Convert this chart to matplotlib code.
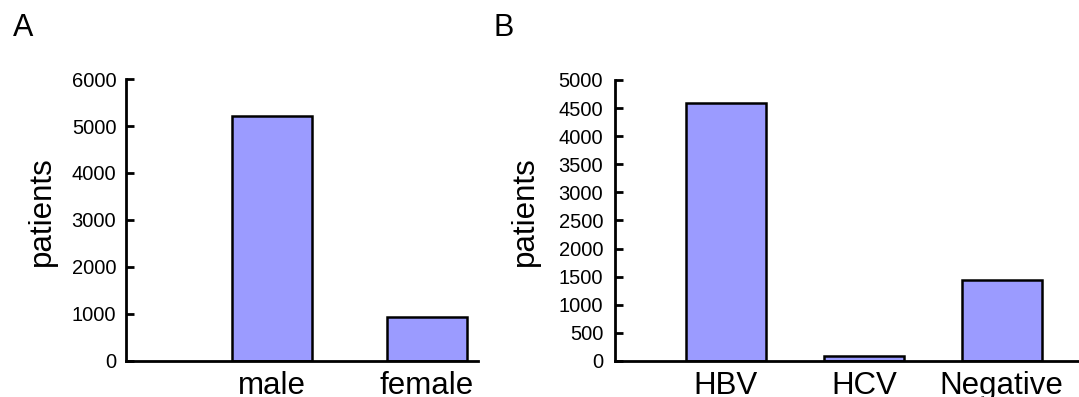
import matplotlib
matplotlib.use("Agg")
import matplotlib.pyplot as plt

plt.rcParams['font.family'] = ['Liberation Sans', 'DejaVu Sans']

sex_categories = ["male", "female"]
sex_values = [5210, 935]
sex_yticks = [0, 1000, 2000, 3000, 4000, 5000, 6000]

virus_categories = ["HBV", "HCV", "Negative"]
virus_values = [4595, 80, 1440]
virus_yticks = [0, 500, 1000, 1500, 2000, 2500, 3000, 3500, 4000, 4500, 5000]

bar_color = "#9b9bff"

fig = plt.figure(figsize=(10.79, 3.97), dpi=100)

def style(ax, yticks, pad):
    for s in ["top", "right"]:
        ax.spines[s].set_visible(False)
    for s in ["left", "bottom"]:
        ax.spines[s].set_linewidth(2.0)
    ax.set_yticks(yticks)
    ax.set_ylim(yticks[0], yticks[-1])
    ax.tick_params(axis="y", direction="in", length=6, width=2, labelsize=14.5, pad=pad)
    ax.tick_params(axis="x", length=0, labelsize=22.5, pad=7)

axA = fig.add_axes([0.1168, 0.0907, 0.3262, 0.7103])
xa = range(1, len(sex_categories) + 1)
axA.bar(xa, sex_values, width=0.516, color=bar_color, edgecolor="black", linewidth=1.8)
axA.set_xticks(list(xa))
axA.set_xticklabels(sex_categories)
axA.set_xlim(0.058, 2.33)
style(axA, sex_yticks, 7)

axB = fig.add_axes([0.570, 0.0907, 0.430, 0.7078])
xb = range(1, len(virus_categories) + 1)
axB.bar(xb, virus_values, width=0.58, color=bar_color, edgecolor="black", linewidth=1.8)
axB.set_xticks(list(xb))
axB.set_xticklabels(virus_categories)
axB.set_xlim(0.196, 3.56)
style(axB, virus_yticks, 8.5)

fig.text(42 / 1079, 1 - 211 / 397, "patients", rotation=90, fontsize=22.5, ha="center", va="center")
fig.text(525 / 1079, 1 - 211 / 397, "patients", rotation=90, fontsize=22.5, ha="center", va="center")

fig.text(13 / 1079, 1 - 36 / 397, "A", fontsize=22, ha="left", va="baseline")
fig.text(493 / 1079, 1 - 36 / 397, "B", fontsize=22, ha="left", va="baseline")

fig.savefig("out.png", dpi=100)
